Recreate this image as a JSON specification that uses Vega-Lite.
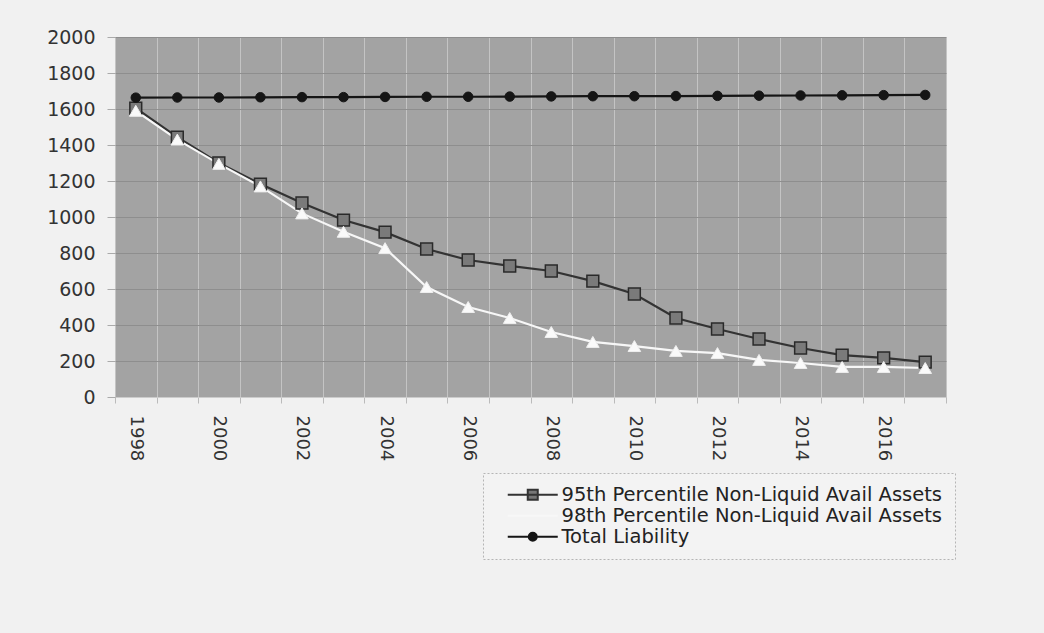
{
  "$schema": "https://vega.github.io/schema/vega-lite/v6.json",
  "width": 831,
  "height": 360,
  "autosize": {"type": "none"},
  "padding": {"left": 115, "top": 37, "right": 98, "bottom": 236},
  "background": "#f1f1f1",
  "config": {
    "view": {"fill": "#a3a3a3", "stroke": null},
    "font": "DejaVu Sans"
  },
  "data": {
    "values": [
      {"year": "1998", "series": "Total Liability", "value": 1663},
      {"year": "1999", "series": "Total Liability", "value": 1664},
      {"year": "2000", "series": "Total Liability", "value": 1664},
      {"year": "2001", "series": "Total Liability", "value": 1665},
      {"year": "2002", "series": "Total Liability", "value": 1666},
      {"year": "2003", "series": "Total Liability", "value": 1666},
      {"year": "2004", "series": "Total Liability", "value": 1667},
      {"year": "2005", "series": "Total Liability", "value": 1668},
      {"year": "2006", "series": "Total Liability", "value": 1668},
      {"year": "2007", "series": "Total Liability", "value": 1669},
      {"year": "2008", "series": "Total Liability", "value": 1670},
      {"year": "2009", "series": "Total Liability", "value": 1671},
      {"year": "2010", "series": "Total Liability", "value": 1671},
      {"year": "2011", "series": "Total Liability", "value": 1672},
      {"year": "2012", "series": "Total Liability", "value": 1673},
      {"year": "2013", "series": "Total Liability", "value": 1674},
      {"year": "2014", "series": "Total Liability", "value": 1675},
      {"year": "2015", "series": "Total Liability", "value": 1676},
      {"year": "2016", "series": "Total Liability", "value": 1677},
      {"year": "2017", "series": "Total Liability", "value": 1678},
      {"year": "1998", "series": "95th Percentile Non-Liquid Avail Assets", "value": 1605},
      {"year": "1999", "series": "95th Percentile Non-Liquid Avail Assets", "value": 1444},
      {"year": "2000", "series": "95th Percentile Non-Liquid Avail Assets", "value": 1300},
      {"year": "2001", "series": "95th Percentile Non-Liquid Avail Assets", "value": 1183},
      {"year": "2002", "series": "95th Percentile Non-Liquid Avail Assets", "value": 1078},
      {"year": "2003", "series": "95th Percentile Non-Liquid Avail Assets", "value": 983},
      {"year": "2004", "series": "95th Percentile Non-Liquid Avail Assets", "value": 916},
      {"year": "2005", "series": "95th Percentile Non-Liquid Avail Assets", "value": 822},
      {"year": "2006", "series": "95th Percentile Non-Liquid Avail Assets", "value": 761},
      {"year": "2007", "series": "95th Percentile Non-Liquid Avail Assets", "value": 728},
      {"year": "2008", "series": "95th Percentile Non-Liquid Avail Assets", "value": 700},
      {"year": "2009", "series": "95th Percentile Non-Liquid Avail Assets", "value": 644},
      {"year": "2010", "series": "95th Percentile Non-Liquid Avail Assets", "value": 572},
      {"year": "2011", "series": "95th Percentile Non-Liquid Avail Assets", "value": 439},
      {"year": "2012", "series": "95th Percentile Non-Liquid Avail Assets", "value": 378},
      {"year": "2013", "series": "95th Percentile Non-Liquid Avail Assets", "value": 322},
      {"year": "2014", "series": "95th Percentile Non-Liquid Avail Assets", "value": 272},
      {"year": "2015", "series": "95th Percentile Non-Liquid Avail Assets", "value": 233},
      {"year": "2016", "series": "95th Percentile Non-Liquid Avail Assets", "value": 217},
      {"year": "2017", "series": "95th Percentile Non-Liquid Avail Assets", "value": 194},
      {"year": "1998", "series": "98th Percentile Non-Liquid Avail Assets", "value": 1590},
      {"year": "1999", "series": "98th Percentile Non-Liquid Avail Assets", "value": 1430},
      {"year": "2000", "series": "98th Percentile Non-Liquid Avail Assets", "value": 1295},
      {"year": "2001", "series": "98th Percentile Non-Liquid Avail Assets", "value": 1170},
      {"year": "2002", "series": "98th Percentile Non-Liquid Avail Assets", "value": 1020},
      {"year": "2003", "series": "98th Percentile Non-Liquid Avail Assets", "value": 918},
      {"year": "2004", "series": "98th Percentile Non-Liquid Avail Assets", "value": 827},
      {"year": "2005", "series": "98th Percentile Non-Liquid Avail Assets", "value": 611},
      {"year": "2006", "series": "98th Percentile Non-Liquid Avail Assets", "value": 500},
      {"year": "2007", "series": "98th Percentile Non-Liquid Avail Assets", "value": 439},
      {"year": "2008", "series": "98th Percentile Non-Liquid Avail Assets", "value": 361},
      {"year": "2009", "series": "98th Percentile Non-Liquid Avail Assets", "value": 306},
      {"year": "2010", "series": "98th Percentile Non-Liquid Avail Assets", "value": 283},
      {"year": "2011", "series": "98th Percentile Non-Liquid Avail Assets", "value": 256},
      {"year": "2012", "series": "98th Percentile Non-Liquid Avail Assets", "value": 244},
      {"year": "2013", "series": "98th Percentile Non-Liquid Avail Assets", "value": 206},
      {"year": "2014", "series": "98th Percentile Non-Liquid Avail Assets", "value": 189},
      {"year": "2015", "series": "98th Percentile Non-Liquid Avail Assets", "value": 167},
      {"year": "2016", "series": "98th Percentile Non-Liquid Avail Assets", "value": 167},
      {"year": "2017", "series": "98th Percentile Non-Liquid Avail Assets", "value": 161}
    ]
  },
  "encoding": {
    "x": {
      "field": "year",
      "type": "ordinal",
      "scale": {"type": "band", "paddingInner": 0, "paddingOuter": 0},
      "axis": {
        "title": null,
        "labelAngle": 90,
        "labelFontSize": 18,
        "labelColor": "#333333",
        "labelPadding": 12,
        "labelExpr": "toNumber(datum.value) % 2 === 0 ? datum.value : ''",
        "labelOverlap": false,
        "tickBand": "extent",
        "tickSize": 6,
        "tickColor": "#bbbbbb",
        "domainColor": "#cccccc",
        "grid": true,
        "gridColor": "#c4c4c4",
        "gridWidth": 1
      }
    },
    "y": {
      "field": "value",
      "type": "quantitative",
      "scale": {"domain": [0, 2000]},
      "axis": {
        "title": null,
        "values": [0, 200, 400, 600, 800, 1000, 1200, 1400, 1600, 1800, 2000],
        "format": "d",
        "labelFontSize": 19,
        "labelColor": "#333333",
        "labelPadding": 12,
        "tickSize": 8,
        "tickColor": "#aaaaaa",
        "domain": false,
        "grid": true,
        "gridColor": "#8e8e8e",
        "gridWidth": 1
      }
    }
  },
  "layer": [
    {
      "mark": {"type": "line", "strokeWidth": 2.2},
      "encoding": {
        "color": {
          "field": "series",
          "type": "nominal",
          "sort": ["95th Percentile Non-Liquid Avail Assets", "98th Percentile Non-Liquid Avail Assets", "Total Liability"],
          "scale": {
            "domain": ["95th Percentile Non-Liquid Avail Assets", "98th Percentile Non-Liquid Avail Assets", "Total Liability"],
            "range": ["#333333", "#f7f7f7", "#151515"]
          },
          "legend": {
            "title": null,
            "orient": "none",
            "legendX": 368,
            "legendY": 436,
            "labelFontSize": 19.5,
            "labelLimit": 0,
            "labelColor": "#222222",
            "labelFont": "DejaVu Sans",
            "symbolSize": 100,
            "symbolStrokeWidth": 2,
            "symbolOffset": 28,
            "labelOffset": 19,
            "rowPadding": 0,
            "padding": 12,
            "strokeColor": "#b5b5b5",
            "fillColor": "#f3f3f3",
            "encode": {
              "legend": {"update": {"strokeDash": {"value": [2, 2]}}},
              "symbols": {
                "update": {
                  "shape": {"signal": "datum.value === 'Total Liability' ? 'M-5,0H5M0.8,0A0.8,0.8,0,1,1,-0.8,0A0.8,0.8,0,1,1,0.8,0Z' : datum.value === '95th Percentile Non-Liquid Avail Assets' ? 'M-5,0H5M-1,-1H1V1H-1Z' : 'M-5,0H5'"},
                  "fill": {"signal": "datum.value === 'Total Liability' ? '#151515' : datum.value === '95th Percentile Non-Liquid Avail Assets' ? '#777777' : 'transparent'"},
                  "fillOpacity": {"value": 1},
                  "stroke": {"signal": "datum.value === 'Total Liability' ? '#151515' : datum.value === '95th Percentile Non-Liquid Avail Assets' ? '#333333' : '#f7f7f7'"}
                }
              }
            }
          }
        }
      }
    },
    {
      "transform": [{"filter": "datum.series === '95th Percentile Non-Liquid Avail Assets'"}],
      "mark": {"type": "point", "shape": "square", "filled": true, "opacity": 1, "fill": "#7a7a7a", "stroke": "#2a2a2a", "strokeWidth": 1.5, "size": 140},
      "encoding": {}
    },
    {
      "transform": [{"filter": "datum.series === '98th Percentile Non-Liquid Avail Assets'"}],
      "mark": {"type": "point", "shape": "triangle-up", "filled": true, "opacity": 1, "fill": "#fafafa", "stroke": "#eeeeee", "strokeWidth": 1, "size": 160},
      "encoding": {}
    },
    {
      "transform": [{"filter": "datum.series === 'Total Liability'"}],
      "mark": {"type": "point", "shape": "circle", "filled": true, "opacity": 1, "fill": "#151515", "stroke": "#151515", "strokeWidth": 1, "size": 90},
      "encoding": {}
    }
  ]
}
